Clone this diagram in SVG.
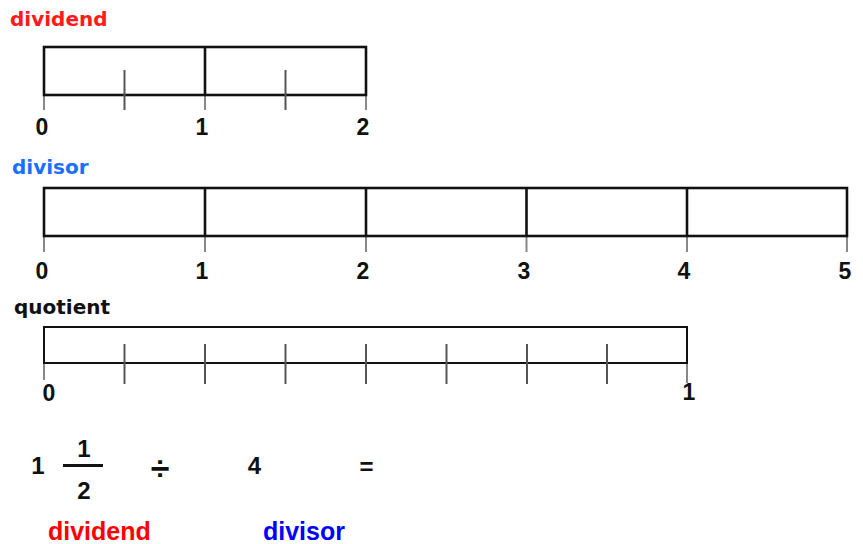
<svg xmlns="http://www.w3.org/2000/svg" width="863" height="544" viewBox="0 0 863 544">
<style>
.bar{fill:#fff;stroke:#111;stroke-width:2.6}
.qbar{fill:#fff;stroke:#111;stroke-width:2}
.div{stroke:#111;stroke-width:2.6}
.tick{stroke:#555;stroke-width:2}
.ext{stroke:#888;stroke-width:2}
.lbl{font-family:"DejaVu Sans",Verdana,sans-serif;font-weight:bold;font-size:20px}
.num{font-family:"Liberation Sans",Arial,sans-serif;font-weight:bold;font-size:23px;fill:#111;text-anchor:middle}
.eq{font-family:"Liberation Sans",Arial,sans-serif;font-weight:bold;font-size:24px;fill:#111;text-anchor:middle}
.bl{font-family:"Liberation Sans",Arial,sans-serif;font-weight:bold;font-size:25px}
</style>
<rect width="863" height="544" fill="#fff"/>

<g id="dividend-line">
<text class="lbl" x="10" y="26" fill="#ff1a1a">dividend</text>
<line class="ext" x1="44" y1="95" x2="44" y2="110"/>
<line class="ext" x1="205" y1="95" x2="205" y2="110"/>
<line class="ext" x1="366" y1="95" x2="366" y2="110"/>
<rect class="bar" x="44" y="47" width="322" height="48"/>
<line class="div" x1="205" y1="47" x2="205" y2="95"/>
<line class="tick" x1="124.5" y1="70" x2="124.5" y2="110"/>
<line class="tick" x1="285.5" y1="70" x2="285.5" y2="110"/>
<text class="num" x="42" y="135">0</text>
<text class="num" x="202" y="135">1</text>
<text class="num" x="363" y="135">2</text>
</g>

<g id="divisor-line">
<text class="lbl" x="12" y="174" fill="#1a6fff">divisor</text>
<line class="ext" x1="44" y1="236" x2="44" y2="252"/>
<line class="ext" x1="205" y1="236" x2="205" y2="252"/>
<line class="ext" x1="366" y1="236" x2="366" y2="252"/>
<line class="ext" x1="526.5" y1="236" x2="526.5" y2="252"/>
<line class="ext" x1="687" y1="236" x2="687" y2="252"/>
<line class="ext" x1="847" y1="236" x2="847" y2="252"/>
<rect class="bar" x="44" y="188" width="803" height="48"/>
<line class="div" x1="205" y1="188" x2="205" y2="236"/>
<line class="div" x1="366" y1="188" x2="366" y2="236"/>
<line class="div" x1="526.5" y1="188" x2="526.5" y2="236"/>
<line class="div" x1="687" y1="188" x2="687" y2="236"/>
<text class="num" x="42" y="279">0</text>
<text class="num" x="202" y="279">1</text>
<text class="num" x="363" y="279">2</text>
<text class="num" x="524" y="279">3</text>
<text class="num" x="684" y="279">4</text>
<text class="num" x="845" y="279">5</text>
</g>

<g id="quotient-line">
<text class="lbl" x="14" y="314" fill="#111">quotient</text>
<line class="ext" x1="44" y1="363" x2="44" y2="380"/>
<line class="ext" x1="687" y1="363" x2="687" y2="383"/>
<rect class="qbar" x="44" y="327" width="643" height="36"/>
<line class="tick" x1="124.5" y1="344" x2="124.5" y2="384"/>
<line class="tick" x1="205" y1="344" x2="205" y2="384"/>
<line class="tick" x1="285.5" y1="344" x2="285.5" y2="384"/>
<line class="tick" x1="366" y1="344" x2="366" y2="384"/>
<line class="tick" x1="446.5" y1="344" x2="446.5" y2="384"/>
<line class="tick" x1="527" y1="344" x2="527" y2="384"/>
<line class="tick" x1="607" y1="344" x2="607" y2="384"/>
<text class="num" x="49" y="401">0</text>
<text class="num" x="689" y="400">1</text>
</g>

<g id="equation">
<text class="eq" x="38" y="474">1</text>
<text class="eq" x="84" y="457">1</text>
<line x1="63" y1="465.5" x2="103" y2="465.5" stroke="#111" stroke-width="3"/>
<text class="eq" x="84" y="499">2</text>
<text class="eq" x="160" y="480" style="font-size:34px">÷</text>
<text class="eq" x="254.5" y="474">4</text>
<text class="eq" x="366.5" y="475">=</text>
<text class="bl" x="48" y="540" fill="#ff0000">dividend</text>
<text class="bl" x="263" y="540" fill="#0000ff">divisor</text>
</g>
</svg>
